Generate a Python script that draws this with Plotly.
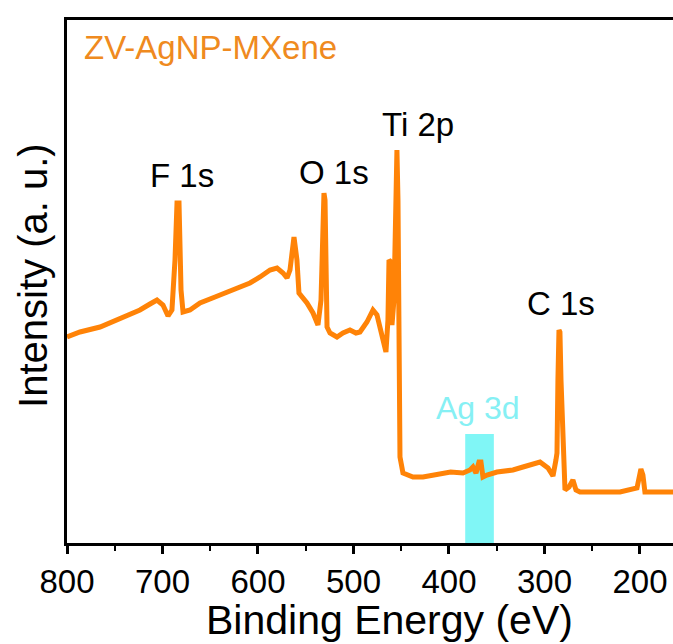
import plotly.graph_objects as go

# Binding energy (eV) and intensity (a.u.)
energy = [800.0, 786.4, 765.4, 744.5, 723.6, 713.1, 705.8, 699.5, 694.2, 690.1,
          686.9, 684.8, 682.7, 680.6, 678.5, 671.2, 660.7, 645.0, 632.5, 618.8,
          608.4, 597.9, 587.4, 580.1, 573.8, 569.6, 566.5, 562.3, 559.2, 557.1,
          548.7, 542.4, 537.2, 534.0, 531.9, 530.9, 529.8, 527.7, 524.6, 517.3,
          511.0, 503.7, 497.4, 493.2, 485.9, 479.6, 475.4, 472.3, 468.1, 466.0,
          463.9, 462.8, 460.7, 459.7, 457.6, 455.5, 454.5, 453.4, 452.4, 451.3,
          448.2, 437.7, 427.2, 414.7, 398.3, 385.3, 378.0, 374.9, 371.7, 368.6,
          366.5, 364.4, 360.2, 349.7, 333.0, 322.5, 304.7, 296.3, 291.1, 288.0,
          286.9, 285.9, 284.8, 283.8, 282.7, 281.7, 280.6, 278.5, 274.3, 270.2,
          267.0, 262.8, 241.9, 220.9, 203.1, 201.0, 199.0, 196.9, 194.8, 179.1,
          165.4]
intensity = [206, 211, 216, 225, 233, 239, 243, 238, 227, 233,
             283, 340, 340, 253, 231, 233, 240, 246, 251, 257,
             260, 266, 273, 275, 270, 265, 273, 306, 283, 250,
             240, 230, 218, 243, 333, 350, 343, 216, 210, 206,
             210, 213, 210, 211, 221, 233, 228, 216, 198, 191,
             223, 283, 281, 218, 243, 383, 393, 343, 143, 86,
             70, 66, 66, 68, 71, 70, 73, 76, 70, 81,
             81, 66, 68, 71, 73, 76, 81, 75, 67, 83,
             90, 163, 213, 211, 163, 140, 93, 53, 56, 63,
             53, 51, 51, 51, 55, 68, 74, 68, 51, 51,
             51]

peak_labels = ["F 1s", "O 1s", "Ti 2p", "C 1s"]
peak_label_x = [679.6, 520.4, 432.5, 282.7]
peak_label_y = [368, 371, 419, 240]

ag_label = "Ag 3d"
ag_band = [383, 353]
sample_name = "ZV-AgNP-MXene"

x_ticks = [800, 700, 600, 500, 400, 300, 200]

font_family = "Liberation Sans, Arial, sans-serif"
orange = "#FF8307"
cyan = "#80F6F6"

fig = go.Figure()
fig.add_trace(go.Scatter(x=energy, y=intensity, mode="lines",
                         line=dict(color=orange, width=5),
                         hoverinfo="skip", showlegend=False))

# Ag 3d highlight band
fig.add_shape(type="rect", xref="x", yref="y",
              x0=ag_band[0], x1=ag_band[1], y0=-7, y1=109,
              fillcolor=cyan, line=dict(width=0), layer="below")

for txt, xx, yy in zip(peak_labels, peak_label_x, peak_label_y):
    fig.add_annotation(x=xx, y=yy, text=txt, showarrow=False,
                       font=dict(family=font_family, size=33, color="black"),
                       xanchor="center", yanchor="middle")

fig.add_annotation(x=369.6, y=135, text=ag_label, showarrow=False,
                   font=dict(family=font_family, size=32, color="#86F0F4"),
                   xanchor="center", yanchor="middle")

fig.add_annotation(xref="paper", yref="paper", x=0.024, y=0.947,
                   text=sample_name, showarrow=False,
                   font=dict(family=font_family, size=33, color="#EF8A20"),
                   xanchor="left", yanchor="middle")

# axis titles
fig.add_annotation(xref="paper", yref="paper", x=0.533, y=-0.147,
                   text="Binding Energy (eV)", showarrow=False,
                   font=dict(family=font_family, size=41, color="black"),
                   xanchor="center", yanchor="middle")
fig.add_annotation(xref="paper", yref="paper", x=-0.055, y=0.512,
                   text="Intensity (a. u.)", showarrow=False, textangle=-90,
                   font=dict(family=font_family, size=40, color="black"),
                   xanchor="center", yanchor="middle")

fig.update_layout(
    width=673, height=644,
    margin=dict(l=67, r=0, t=20, b=101),
    paper_bgcolor="white", plot_bgcolor="white",
    font=dict(family=font_family, color="black"),
    xaxis=dict(range=[800, 165.4], showgrid=False, zeroline=False,
               automargin=False,
               showline=True, linecolor="black", linewidth=2.5, mirror=True,
               ticks="outside", ticklen=8, tickwidth=2.5, tickcolor="black",
               tickvals=x_ticks, tickfont=dict(size=33),
               minor=dict(ticks="outside", ticklen=5, tickwidth=2,
                          tickcolor="black", dtick=50)),
    yaxis=dict(range=[0, 523], showgrid=False, zeroline=False,
               automargin=False,
               showline=True, linecolor="black", linewidth=2.5,
               showticklabels=False, ticks=""),
)

fig.write_html("out.html",
               config={"displayModeBar": False},
               post_script="document.body.style.margin='0';"
                           "document.body.style.overflow='hidden';")
